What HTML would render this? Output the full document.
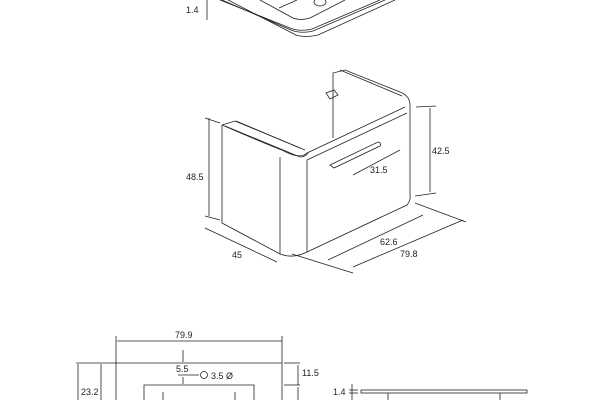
<!DOCTYPE html><html><head><style>body{margin:0;background:#fff}svg{display:block}text{font-family:"Liberation Sans",sans-serif;font-size:9px;fill:#222}</style></head><body>
<svg width="600" height="400" viewBox="0 0 600 400" stroke="#222" fill="none" stroke-width="0.8">
<text x="186" y="13" stroke="none">1.4</text>
<line x1="207" y1="0" x2="207" y2="20"/>
<path d="M220 0 L290 28 Q300 32 312 29 L380 0"/>
<path d="M222 0 L291 30 Q301 34 313 31 L385 0"/>
<path d="M228 0 L296 35 Q305 38 318 35 L395 0"/>
<path d="M260 0 L293 18 Q300 21 310 18 L345 0"/>
<line x1="279" y1="8" x2="297" y2="0"/>
<ellipse cx="320" cy="2" rx="6" ry="4"/>
<path d="M222 125 L235 121 L305 150"/>
<path d="M225 126 L300 157 Q305 157 308 153"/>
<path d="M222 125 L222 223 L280 254 Q293 259 307 252 L407 205 Q411 200 410 195 L410 105 Q410 96 400 92 L345 70 L333 73 L333 138"/>
<path d="M236 121 L300 148 M340 70 L402 96"/>
<path d="M280 157 L280 254"/>
<path d="M222 125 Q280 150 282 150 Q300 160 307 153 L405 107"/>
<path d="M307 160 L407 113"/>
<path d="M307 160 L307 252"/>
<path d="M330 165 L378 142 Q382 143 380 146 L334 168 Z"/>
<path d="M326 93 L334 90 L338 95 L330 99 Z"/>
<line x1="209" y1="118" x2="209" y2="216"/><text x="186" y="180" stroke="none">48.5</text>
<line x1="205" y1="118" x2="220" y2="123"/><line x1="205" y1="216" x2="220" y2="220"/>
<line x1="430" y1="108" x2="430" y2="192"/><text x="432" y="154" stroke="none">42.5</text>
<line x1="416" y1="107" x2="436" y2="106"/><line x1="415" y1="196" x2="436" y2="193"/>
<line x1="205" y1="228" x2="277" y2="262"/><text x="232" y="258" stroke="none">45</text>
<line x1="328" y1="260" x2="423" y2="215"/><text x="380" y="245" stroke="none">62.6</text>
<line x1="353" y1="267" x2="463" y2="220"/><text x="400" y="257" stroke="none">79.8</text>
<line x1="292" y1="254" x2="353" y2="273"/><line x1="415" y1="203" x2="466" y2="222"/>
<line x1="353" y1="175" x2="400" y2="150"/><text x="370" y="173" stroke="none">31.5</text>
<text x="175" y="338" stroke="none">79.9</text>
<line x1="117" y1="341" x2="282" y2="341"/>
<line x1="116" y1="336" x2="116" y2="400"/><line x1="282" y1="336" x2="282" y2="400"/>
<line x1="76" y1="363" x2="115" y2="363"/>
<line x1="115" y1="363" x2="282" y2="363"/>
<line x1="284" y1="363" x2="300" y2="363"/><line x1="284" y1="385" x2="300" y2="385"/>
<line x1="298" y1="365" x2="298" y2="385"/><text x="302" y="376" stroke="none">11.5</text>
<line x1="298" y1="387" x2="298" y2="400"/>
<line x1="78" y1="364" x2="78" y2="400"/><line x1="101" y1="364" x2="101" y2="400"/>
<text x="81" y="395" stroke="none">23.2</text>
<line x1="183" y1="350" x2="183" y2="362"/><line x1="183" y1="377" x2="183" y2="384"/>
<text x="176" y="372" stroke="none">5.5</text><line x1="178" y1="375" x2="199" y2="375"/>
<circle cx="204" cy="375" r="3.5"/><text x="211" y="379" stroke="none">3.5 Ø</text>
<path d="M144 400 L144 385 L254 385 L254 400"/>
<line x1="163" y1="392" x2="163" y2="400"/><line x1="235" y1="392" x2="235" y2="400"/>
<text x="333" y="395" stroke="none">1.4</text>
<line x1="352" y1="384" x2="352" y2="400"/><line x1="349" y1="390" x2="358" y2="390"/><line x1="349" y1="393" x2="358" y2="393"/>
<rect x="361" y="390" width="166" height="3"/>
<line x1="388" y1="393" x2="388" y2="400"/><line x1="500" y1="393" x2="500" y2="400"/>
</svg></body></html>
